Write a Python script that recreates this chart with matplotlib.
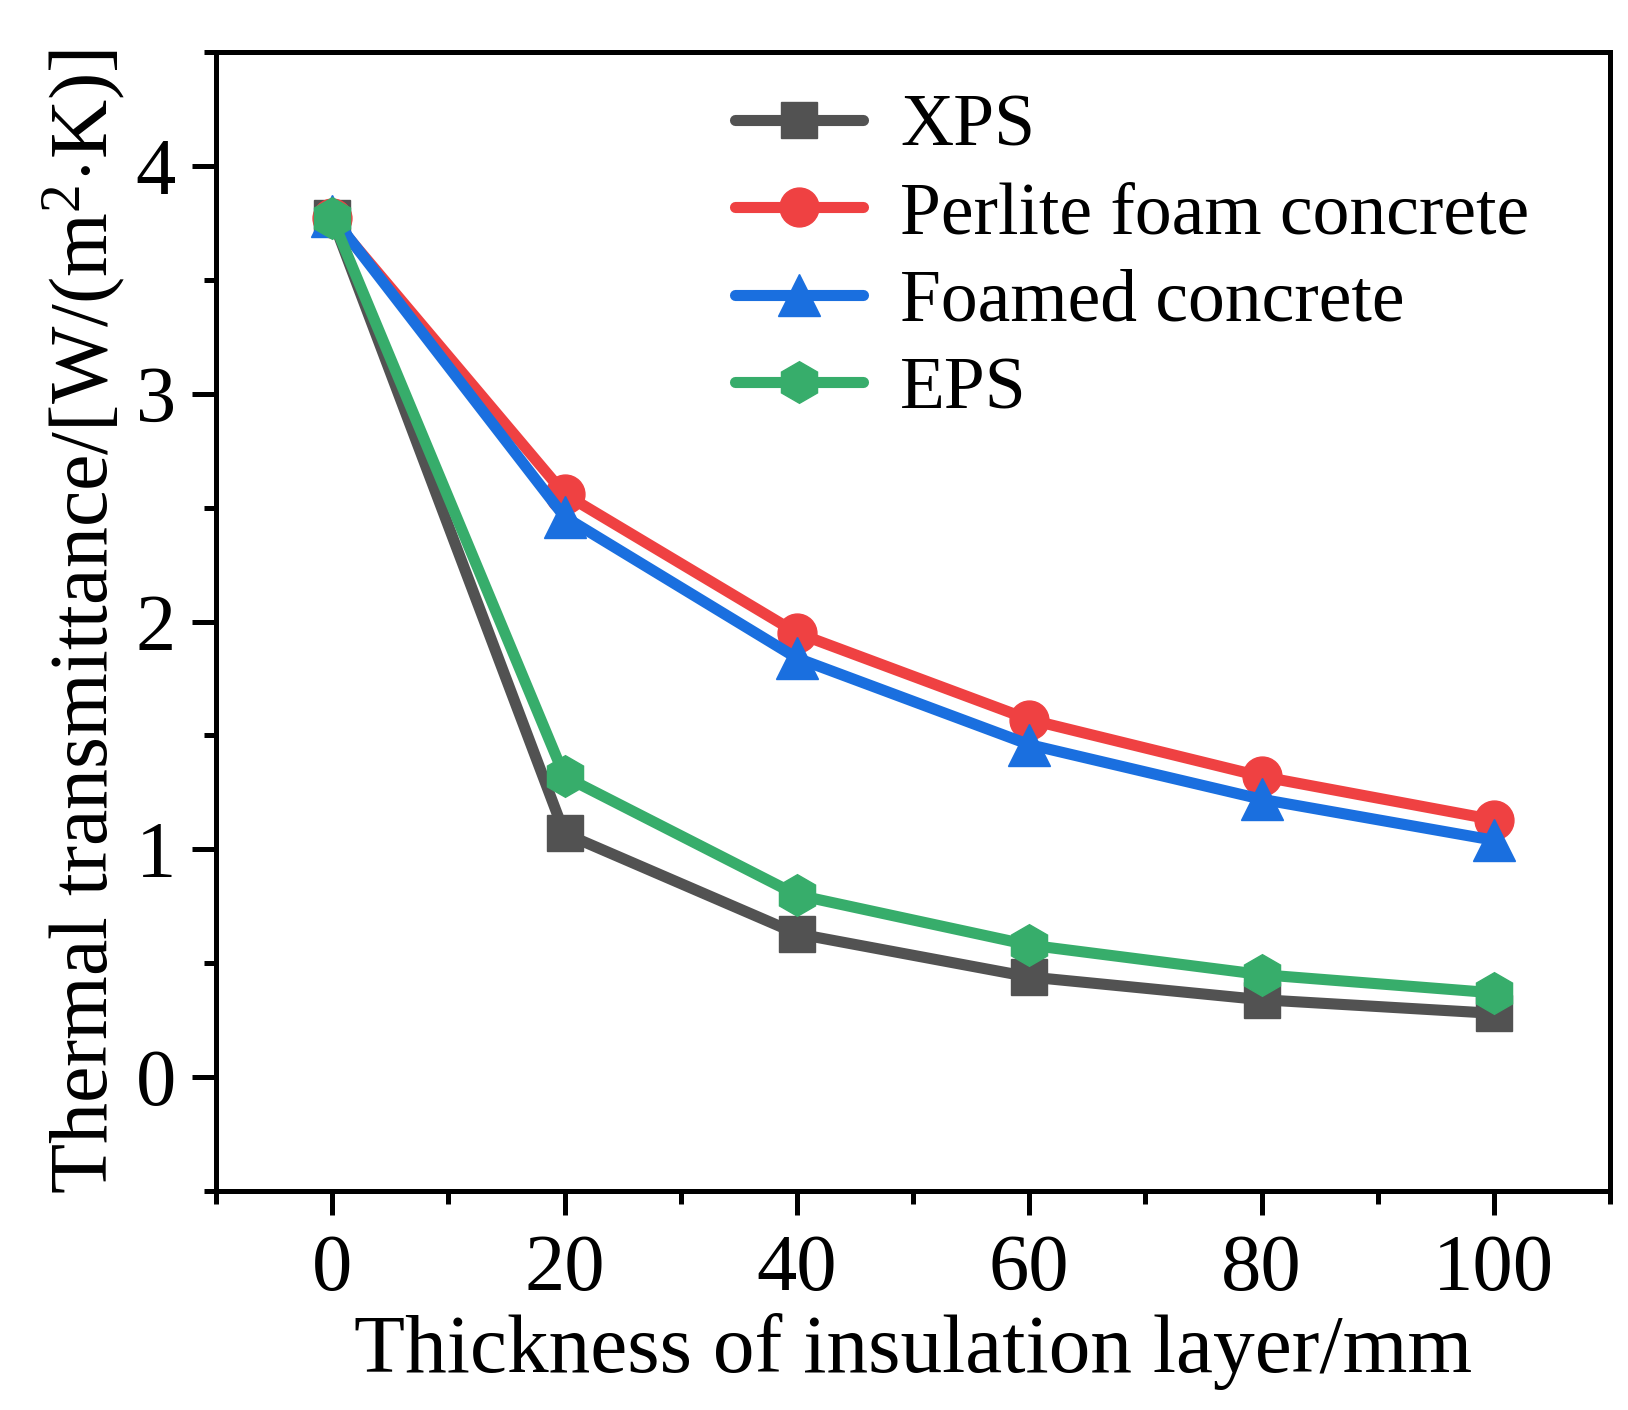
import matplotlib
matplotlib.use("Agg")
import matplotlib.pyplot as plt
from matplotlib.ticker import MultipleLocator

# data
thickness = [0, 20, 40, 60, 80, 100]
xps = [3.77, 1.07, 0.63, 0.44, 0.34, 0.28]
perlite = [3.77, 2.56, 1.95, 1.57, 1.32, 1.13]
foamed = [3.78, 2.46, 1.84, 1.46, 1.22, 1.04]
eps = [3.77, 1.32, 0.80, 0.58, 0.45, 0.37]

series = [
    ("XPS", xps, "#525252", "s", 26),
    ("Perlite foam concrete", perlite, "#EF4142", "o", 28),
    ("Foamed concrete", foamed, "#1A6FDF", "^", 30),
    ("EPS", eps, "#37AD6B", "h", 30),
]

plt.rcParams["font.family"] = ["Liberation Serif", "DejaVu Serif"]
plt.rcParams["mathtext.fontset"] = "custom"
plt.rcParams["mathtext.rm"] = "Liberation Serif"
plt.rcParams["mathtext.it"] = "Liberation Serif:italic"

fig = plt.figure(figsize=(16.28, 14.10), dpi=100)
ax = fig.add_axes([0.1327, 0.1553, 0.8563, 0.8077])

for name, values, color, marker, size in series:
    ax.plot(thickness, values, color=color, lw=8, marker=marker, ms=size,
            label=name, solid_capstyle="round", solid_joinstyle="round")

ax.set_xlim(-10, 110)
ax.set_ylim(-0.5, 4.5)
ax.xaxis.set_major_locator(MultipleLocator(20))
ax.xaxis.set_minor_locator(MultipleLocator(10))
ax.yaxis.set_major_locator(MultipleLocator(1))
ax.yaxis.set_minor_locator(MultipleLocator(0.5))

for spine in ax.spines.values():
    spine.set_linewidth(3.6)
ax.tick_params(which="major", direction="out", length=17, width=3.6,
               labelsize=58)
ax.tick_params(axis="x", which="major", pad=14)
ax.tick_params(axis="y", which="major", pad=12)
ax.tick_params(which="minor", direction="out", length=9, width=3.6)
ax.tick_params(top=False, right=False, which="both")

ax.set_xlabel("Thickness of insulation layer/mm", fontsize=60, labelpad=4)
ax.set_ylabel(r"Thermal transmittance/[W/(m$^{2}$$\cdot$K)]", fontsize=59, labelpad=6)

ax.legend(loc="upper left", bbox_to_anchor=(0.372, 0.963), frameon=False,
          fontsize=53, borderpad=0, borderaxespad=0, handlelength=1.75,
          handletextpad=0.5, labelspacing=0.27, numpoints=1)

fig.savefig("out.png", dpi=100)
